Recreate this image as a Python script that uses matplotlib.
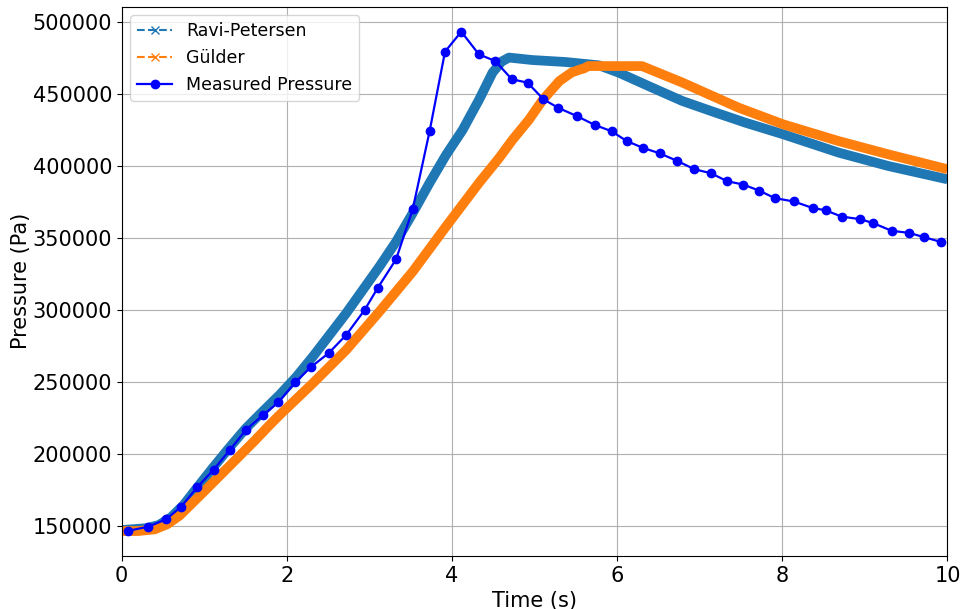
# pressure vs time: two burn-rate models against measured data
import numpy as np
import matplotlib
matplotlib.use("Agg")
import matplotlib.pyplot as plt
from matplotlib.lines import Line2D

# Ravi-Petersen model
t_ravi = [0.0, 0.3, 0.45, 0.6, 0.75, 0.9, 1.1, 1.3, 1.5, 1.7, 1.913, 2.115, 2.316,
          2.517, 2.719, 2.92, 3.121, 3.323, 3.524, 3.726, 3.927, 4.128, 4.33, 4.49,
          4.6, 4.69, 4.97, 5.38, 5.78, 6.02, 6.38, 6.79, 7.19, 7.55, 8.01, 8.68,
          9.28, 10.0]
p_ravi = [147000, 148300, 150500, 156000, 164500, 175500, 190000, 204000, 217500,
          229000, 241000, 253500, 267600, 282600, 297700, 313900, 330100, 347400,
          367200, 388000, 407600, 425000, 446300, 464800, 472500, 475300, 473600,
          472200, 469900, 464800, 455500, 445100, 437100, 430100, 422000, 409300,
          400000, 390700]

# Gulder model
t_gul = [0.0, 0.2, 0.4, 0.55, 0.7, 0.85, 1.0, 1.2, 1.4, 1.6, 1.8, 1.913, 2.316,
         2.719, 3.121, 3.524, 3.927, 4.33, 4.57, 4.73, 4.93, 5.1, 5.3, 5.45, 5.55,
         5.6, 5.65, 6.3, 6.79, 7.47, 8.01, 8.68, 9.28, 10.0]
p_gul = [146300, 146300, 147500, 151000, 157000, 165500, 174000, 185500, 197000,
         208500, 220500, 227000, 249100, 272200, 298800, 326600, 357900, 388500,
         405500, 418000, 432000, 446000, 459000, 465000, 467000, 467800, 469400,
         469400, 457900, 440500, 428900, 417300, 408100, 397700]

# measured pressure
t_meas = [0.08, 0.32, 0.535, 0.717, 0.914, 1.112, 1.312, 1.506, 1.711, 1.897, 2.103,
          2.291, 2.509, 2.719, 2.940, 3.101, 3.323, 3.524, 3.729, 3.915, 4.112,
          4.326, 4.523, 4.725, 4.914, 5.107, 5.288, 5.51, 5.728, 5.933, 6.115,
          6.315, 6.513, 6.726, 6.936, 7.137, 7.331, 7.524, 7.717, 7.911, 8.14,
          8.366, 8.523, 8.717, 8.946, 9.103, 9.325, 9.535, 9.716, 9.921]
p_meas = [146500, 149300, 154400, 163000, 176700, 188900, 202800, 216700, 226900,
          235700, 249800, 260200, 270100, 282600, 299800, 315300, 335200, 369900,
          424300, 479400, 493300, 477500, 472900, 460200, 457900, 446300, 440300,
          434700, 428500, 424100, 417300, 412500, 408800, 403500, 397700, 394900,
          389400, 387100, 382900, 377600, 375300, 370800, 369200, 364800, 363000,
          360200, 354900, 353500, 350500, 347200]

fig = plt.figure(figsize=(9.63, 6.09), dpi=100)
ax = fig.add_axes([0.1264, 0.087, 0.8575, 0.902])

ax.plot(t_ravi, p_ravi, color='C0', lw=7, solid_joinstyle='round',
        solid_capstyle='butt', zorder=2)
ax.plot(t_gul, p_gul, color='C1', lw=7, solid_joinstyle='round',
        solid_capstyle='butt', zorder=2)
ax.plot(t_meas, p_meas, color='blue', marker='o', ms=6, lw=1.6, zorder=3)

ax.set_xlim(0, 10)
ax.set_xlabel('Time (s)', fontsize=15)
ax.set_ylabel('Pressure (Pa)', fontsize=15, labelpad=1)
ax.tick_params(labelsize=15)
ax.grid(True)

handles = [
    Line2D([], [], color='C0', ls='--', marker='x', ms=6, label='Ravi-Petersen'),
    Line2D([], [], color='C1', ls='--', marker='x', ms=6, label='Gülder'),
    Line2D([], [], color='blue', ls='-', marker='o', ms=6, lw=1.6, label='Measured Pressure'),
]
ax.legend(handles=handles, loc='upper left', fontsize=12.5)

fig.savefig('out.png', dpi=100)
